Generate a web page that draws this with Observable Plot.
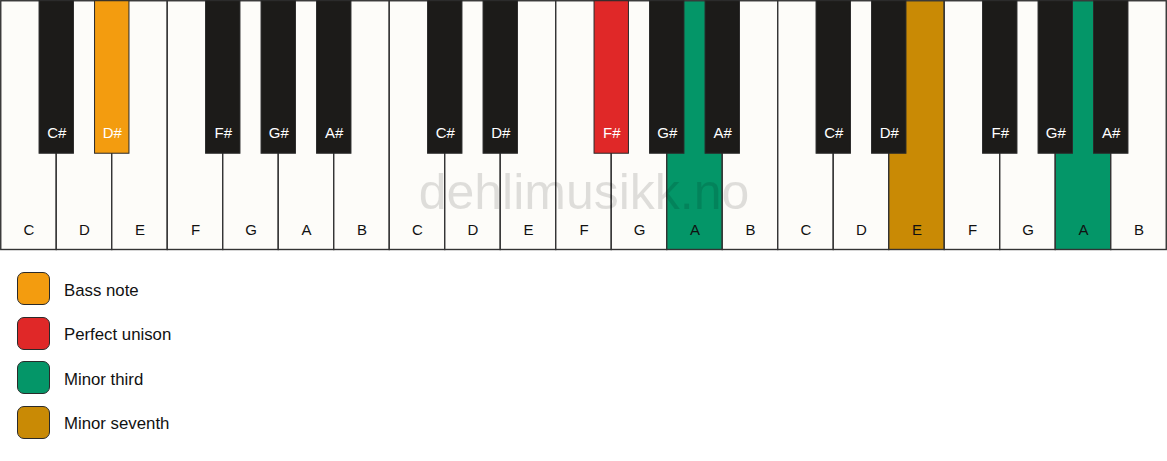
<!DOCTYPE html>
<html>
<head>
<meta charset="utf-8">
<script src="https://cdn.jsdelivr.net/npm/d3@7"></script>
<script src="https://cdn.jsdelivr.net/npm/@observablehq/plot@0.6"></script>
<style>
  html, body { margin: 0; padding: 0; background: #ffffff; }
  body { width: 1167px; height: 461px; overflow: hidden; font-family: "Liberation Sans", Arial, sans-serif; }
  #legend { position: relative; margin-top: 20px; margin-left: 17px; }
  .row { display: flex; align-items: center; height: 33px; margin-bottom: 11.5px; }
  .sw { width: 31px; height: 31px; border: 1.3px solid #2a2a2a; border-radius: 7px; box-sizing: content-box; }
  .lab { margin-left: 14px; font-size: 16.8px; color: #111; padding-top: 4px; }
</style>
</head>
<body>
<div id="chart"></div>
<div id="legend"></div>
<script>
// ---- data ----
const octaves = 3;
const whiteNames = ["C", "D", "E", "F", "G", "A", "B"];
const blackNames = ["C#", "D#", "F#", "G#", "A#"];
const blackAfterWhite = [0, 1, 3, 4, 5]; // black key sits after this white key within the octave
// highlighted keys: [octave, name, role]
const highlights = [
  [0, "D#", "Bass note"],
  [1, "F#", "Perfect unison"],
  [1, "A", "Minor third"],
  [2, "E", "Minor seventh"],
  [2, "A", "Minor third"]
];
const legendLabels = ["Bass note", "Perfect unison", "Minor third", "Minor seventh"];
const legendColors = ["#f39c0f", "#e02828", "#049668", "#c98a05"];
const watermark = "dehlimusikk.no";

// ---- build tables ----
const roleOf = new Map(highlights.map(([o, n, r]) => [o + ":" + n, r]));
const colorOf = new Map(legendLabels.map((l, i) => [l, legendColors[i]]));
const whiteKeys = [];
const blackKeys = [];
for (let o = 0; o < octaves; o++) {
  whiteNames.forEach((n, i) => {
    const role = roleOf.get(o + ":" + n);
    whiteKeys.push({ name: n, idx: o * 7 + i, fill: role ? colorOf.get(role) : "#fdfcf9" });
  });
  blackNames.forEach((n, i) => {
    const role = roleOf.get(o + ":" + n);
    blackKeys.push({ name: n, pos: o * 7 + blackAfterWhite[i] + 1, fill: role ? colorOf.get(role) : "#1c1b19" });
  });
}
const nWhite = whiteKeys.length;
const bw = 0.31;      // half black key width, in white-key units
const blackLen = 0.613; // black key length as fraction of white key length

const plot = Plot.plot({
  width: 1167,
  height: 252,
  margin: 0,
  style: { background: "#ffffff", fontFamily: "Liberation Sans, Arial, sans-serif" },
  x: { domain: [0, nWhite], range: [0.75, 1166.25], axis: null },
  y: { domain: [0, 1], range: [0.75, 249.5], axis: null },
  marks: [
    Plot.rect(whiteKeys, {
      x1: d => d.idx, x2: d => d.idx + 1, y1: 0, y2: 1,
      fill: "fill", stroke: "#333", strokeWidth: 1.4
    }),
    Plot.text(whiteKeys, {
      x: d => d.idx + 0.5, y: 0.921, text: "name",
      fill: "#111", fontSize: 15
    }),
    Plot.rect(blackKeys, {
      x1: d => d.pos - bw, x2: d => d.pos + bw, y1: 0, y2: blackLen,
      fill: "fill", stroke: "#2a2a2a", strokeWidth: 1
    }),
    Plot.text(blackKeys, {
      x: "pos", y: 0.532, text: "name",
      fill: "#ffffff", fontSize: 15
    }),
    Plot.text([watermark], {
      x: nWhite / 2, y: 0.772, text: d => d,
      fill: "#000", fillOpacity: 0.12, fontSize: 50
    })
  ]
});
document.getElementById("chart").appendChild(plot);

const legend = document.getElementById("legend");
legendLabels.forEach((l, i) => {
  const row = document.createElement("div");
  row.className = "row";
  const sw = document.createElement("div");
  sw.className = "sw";
  sw.style.background = legendColors[i];
  const lab = document.createElement("div");
  lab.className = "lab";
  lab.textContent = l;
  row.appendChild(sw);
  row.appendChild(lab);
  legend.appendChild(row);
});
</script>
</body>
</html>
